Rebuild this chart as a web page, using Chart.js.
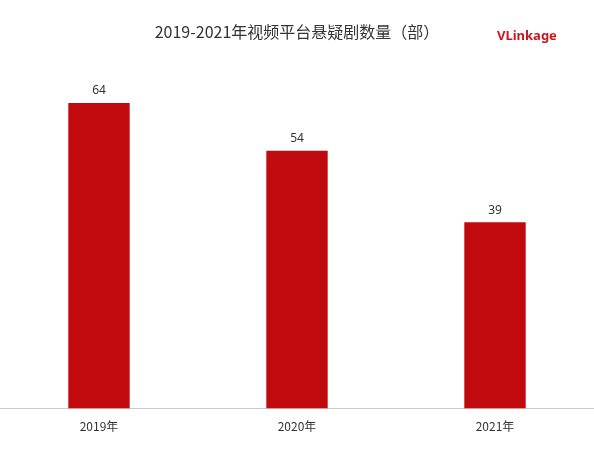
<!DOCTYPE html>
<html>
<head>
<meta charset="utf-8">
<script src="https://cdn.jsdelivr.net/npm/chart.js@4"></script>
<style>
  html, body { margin: 0; padding: 0; background: #fff; }
  #wrap { position: relative; width: 594px; height: 451px; }
  #title { position: absolute; top: 19px; left: 0; width: 594px; text-align: center;
           font: 16px "Noto Sans CJK SC", sans-serif; color: #333; }
  #logo { position: absolute; top: 26px; left: 497px; font: bold 13px "Noto Sans", sans-serif; color: #c8161d; }
</style>
</head>
<body>
<div id="wrap">
  <div id="title">2019-2021年视频平台悬疑剧数量（部）</div>
  <div id="logo">VLinkage</div>
  <canvas id="chart" width="594" height="451"></canvas>
</div>
<script>
const years = ["2019年", "2020年", "2021年"];
const counts = [64, 54, 39];

// value labels above bars
const barLabels = {
    id: "barLabels",
    afterDatasetsDraw(chart) {
        const ctx = chart.ctx;
        ctx.save();
        ctx.font = '12px "Noto Sans", sans-serif';
        ctx.fillStyle = "#333";
        ctx.textAlign = "center";
        ctx.textBaseline = "bottom";
        chart.getDatasetMeta(0).data.forEach((bar, i) => {
            ctx.fillText(counts[i], bar.x, bar.y - 6);
        });
        ctx.restore();
    }
};

new Chart(document.getElementById("chart"), {
    type: "bar",
    data: {
        labels: years,
        datasets: [{
            data: counts,
            backgroundColor: "#c10a0e",
            categoryPercentage: 1,
            barPercentage: 0.31
        }]
    },
    options: {
        responsive: false,
        animation: false,
        layout: { padding: { top: 60, left: -3, right: -3, bottom: 14 } },
        plugins: { legend: { display: false }, tooltip: { enabled: false } },
        scales: {
            x: {
                grid: { display: false },
                border: { color: "#ccc" },
                ticks: { color: "#333", font: { size: 12, family: '"Noto Sans CJK SC", sans-serif' } }
            },
            y: { display: false, min: 0, max: 73 }
        }
    },
    plugins: [barLabels]
});
</script>
</body>
</html>
